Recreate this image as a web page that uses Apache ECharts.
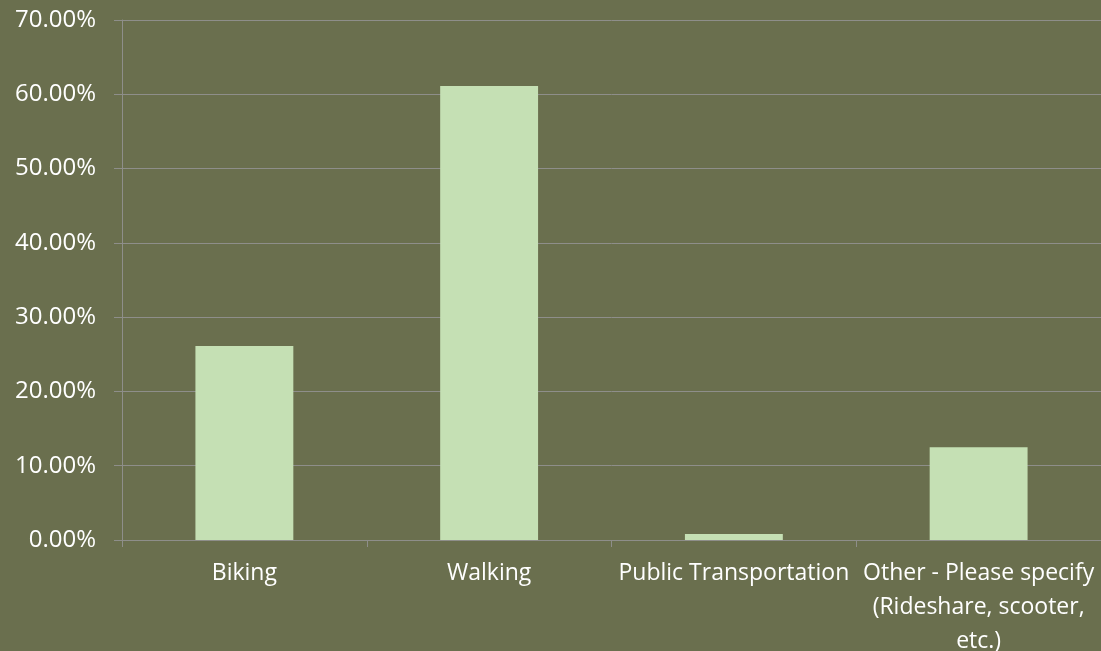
<!DOCTYPE html>
<html><head><meta charset="utf-8">
<script src="https://cdn.jsdelivr.net/npm/echarts@6/dist/echarts.min.js"></script>
<style>html,body{margin:0;padding:0;background:#6A6F4E;overflow:hidden;}#c{width:1101px;height:651px;}</style>
</head><body><div id="c"></div>
<script>
const categories = ['Biking', 'Walking', 'Public Transportation', 'Other - Please specify (Rideshare, scooter, etc.)'];
const categoryLabels = ['Biking', 'Walking', 'Public Transportation', 'Other - Please specify\n(Rideshare, scooter,\netc.)'];
const shares = [0.261, 0.611, 0.008, 0.125];
const yTicks = [0, 0.1, 0.2, 0.3, 0.4, 0.5, 0.6, 0.7];

const chart = echarts.init(document.getElementById('c'));
const font = '"Open Sans", Roboto, sans-serif';
chart.setOption({
  backgroundColor: '#6A6F4E',
  animation: false,
  grid: { left: 122, right: 0, top: 20, bottom: 111, containLabel: false, outerBoundsMode: 'none' },
  xAxis: {
    type: 'category',
    data: categories,
    axisLine: { show: true, lineStyle: { color: '#8E8E8A', width: 1 } },
    axisTick: { show: true, length: 7, lineStyle: { color: '#8E8E8A' } },
    axisLabel: {
      color: '#FFFFFF', fontSize: 23, fontFamily: font, margin: 16, lineHeight: 34, interval: 0,
      formatter: (v, i) => categoryLabels[i]
    }
  },
  yAxis: {
    type: 'value',
    min: yTicks[0], max: yTicks[yTicks.length - 1], interval: 0.1,
    axisLine: { show: true, lineStyle: { color: '#8E8E8A', width: 1 } },
    axisTick: { show: true, length: 8, lineStyle: { color: '#8E8E8A' } },
    splitLine: { show: true, lineStyle: { color: '#8E8E8A', width: 1 } },
    axisLabel: {
      color: '#FFFFFF', fontSize: 24, fontFamily: font, margin: 26,
      formatter: v => (v * 100).toFixed(2) + '%'
    }
  },
  series: [{
    type: 'bar',
    data: shares,
    barWidth: '40%',
    itemStyle: { color: '#C5E0B4' }
  }]
});
</script></body></html>
